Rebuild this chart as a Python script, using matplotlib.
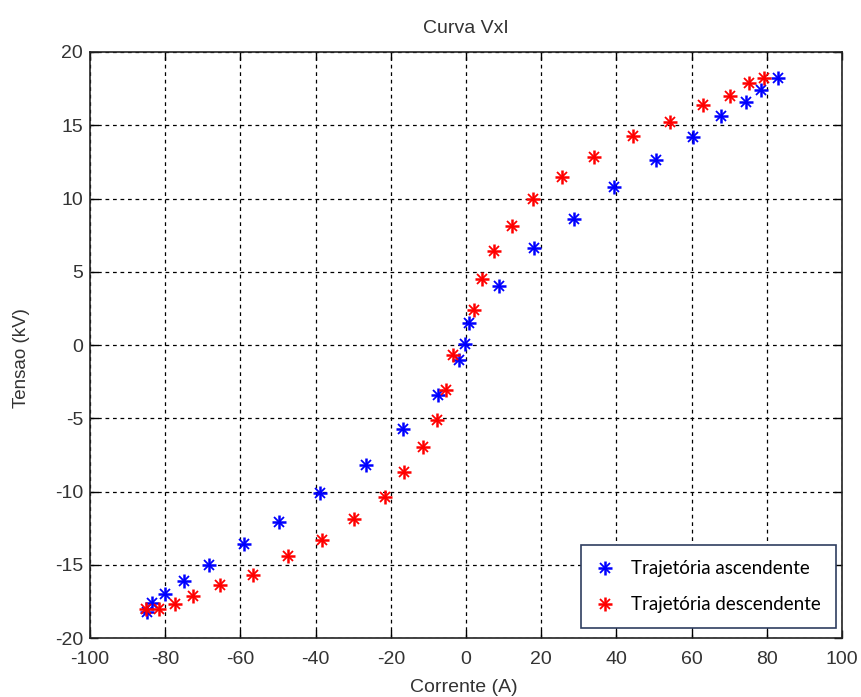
import numpy as np
import matplotlib.pyplot as plt

# Trajetória ascendente (corrente A, tensão kV)
i_asc = [-84.9, -83.6, -80.0, -75.0, -68.3, -59.0, -49.6, -38.8, -26.7, -16.7,
         -7.5, -1.9, -0.3, 0.9, 8.8, 18.2, 28.7, 39.3, 50.5, 60.4, 67.7, 74.5, 78.5, 82.9]
v_asc = [-18.2, -17.6, -17.0, -16.1, -15.0, -13.6, -12.1, -10.1, -8.2, -5.7,
         -3.4, -1.0, 0.1, 1.5, 4.0, 6.6, 8.6, 10.8, 12.65, 14.2, 15.6, 16.6, 17.4, 18.2]

# Trajetória descendente
i_desc = [-85.0, -81.6, -77.3, -72.5, -65.4, -56.6, -47.3, -38.4, -29.8, -21.5,
          -16.6, -11.5, -7.8, -5.4, -3.5, 2.0, 4.2, 7.5, 12.2, 17.7, 25.6, 34.1,
          44.5, 54.3, 62.9, 70.3, 75.3, 79.3]
v_desc = [-18.05, -18.0, -17.65, -17.15, -16.4, -15.7, -14.4, -13.3, -11.9, -10.4,
          -8.7, -6.95, -5.1, -3.05, -0.7, 2.4, 4.5, 6.4, 8.15, 9.95, 11.5, 12.85,
          14.3, 15.2, 16.4, 17.0, 17.9, 18.2]

plt.rcParams['font.family'] = ['Liberation Sans', 'DejaVu Sans']
plt.rcParams['axes.unicode_minus'] = False

fig = plt.figure(figsize=(8.61, 6.97), dpi=100)
ax = fig.add_axes([0.1045, 0.0846, 0.8735, 0.8408])

def asterisk(x, y, color):
    # MATLAB-style '*' : bold plus with thinner diagonals
    p, = ax.plot(x, y, linestyle='none', marker='+', color=color,
                 markersize=10, markeredgewidth=1.8)
    d, = ax.plot(x, y, linestyle='none', marker='x', color=color,
                 markersize=6.5, markeredgewidth=1.3)
    return (p, d)

h_asc = asterisk(i_asc, v_asc, '#0000ff')
h_desc = asterisk(i_desc, v_desc, '#ff0000')

ax.set_xlim(-100, 100)
ax.set_ylim(-20, 20)
ax.set_xticks(np.arange(-100, 101, 20))
ax.set_yticks(np.arange(-20, 21, 5))
ax.grid(True, color='black', linestyle=(0, (3, 3)), linewidth=0.9)
ax.tick_params(direction='in', length=6, width=1, top=True, right=True,
               labelsize=14, labelcolor='#333333')
ax.tick_params(axis='x', pad=9)
ax.tick_params(axis='y', pad=5)
for s in ax.spines.values():
    s.set_linewidth(1.2)
    s.set_color('#222222')

ax.set_title('Curva VxI', fontsize=14, color='#333333', pad=14)
ax.set_xlabel('Corrente (A)', fontsize=14, color='#333333')
ax.set_ylabel('Tensao (kV)', fontsize=13.5, color='#333333')
ax.xaxis.set_label_coords(0.497, -0.07)
ax.yaxis.set_label_coords(-0.08, 0.478)

leg = ax.legend([h_asc, h_desc], ['Trajetória ascendente', 'Trajetória descendente'],
                loc='lower right', bbox_to_anchor=(0.992, 0.017), borderaxespad=0,
                fancybox=False, framealpha=1, edgecolor='#2f3e60',
                borderpad=0.8, labelspacing=1.0, handlelength=1.0, handletextpad=0.9,
                prop={'family': 'Lato', 'size': 13.5})
leg.get_frame().set_linewidth(1.2)

fig.savefig('out.png', dpi=100)
